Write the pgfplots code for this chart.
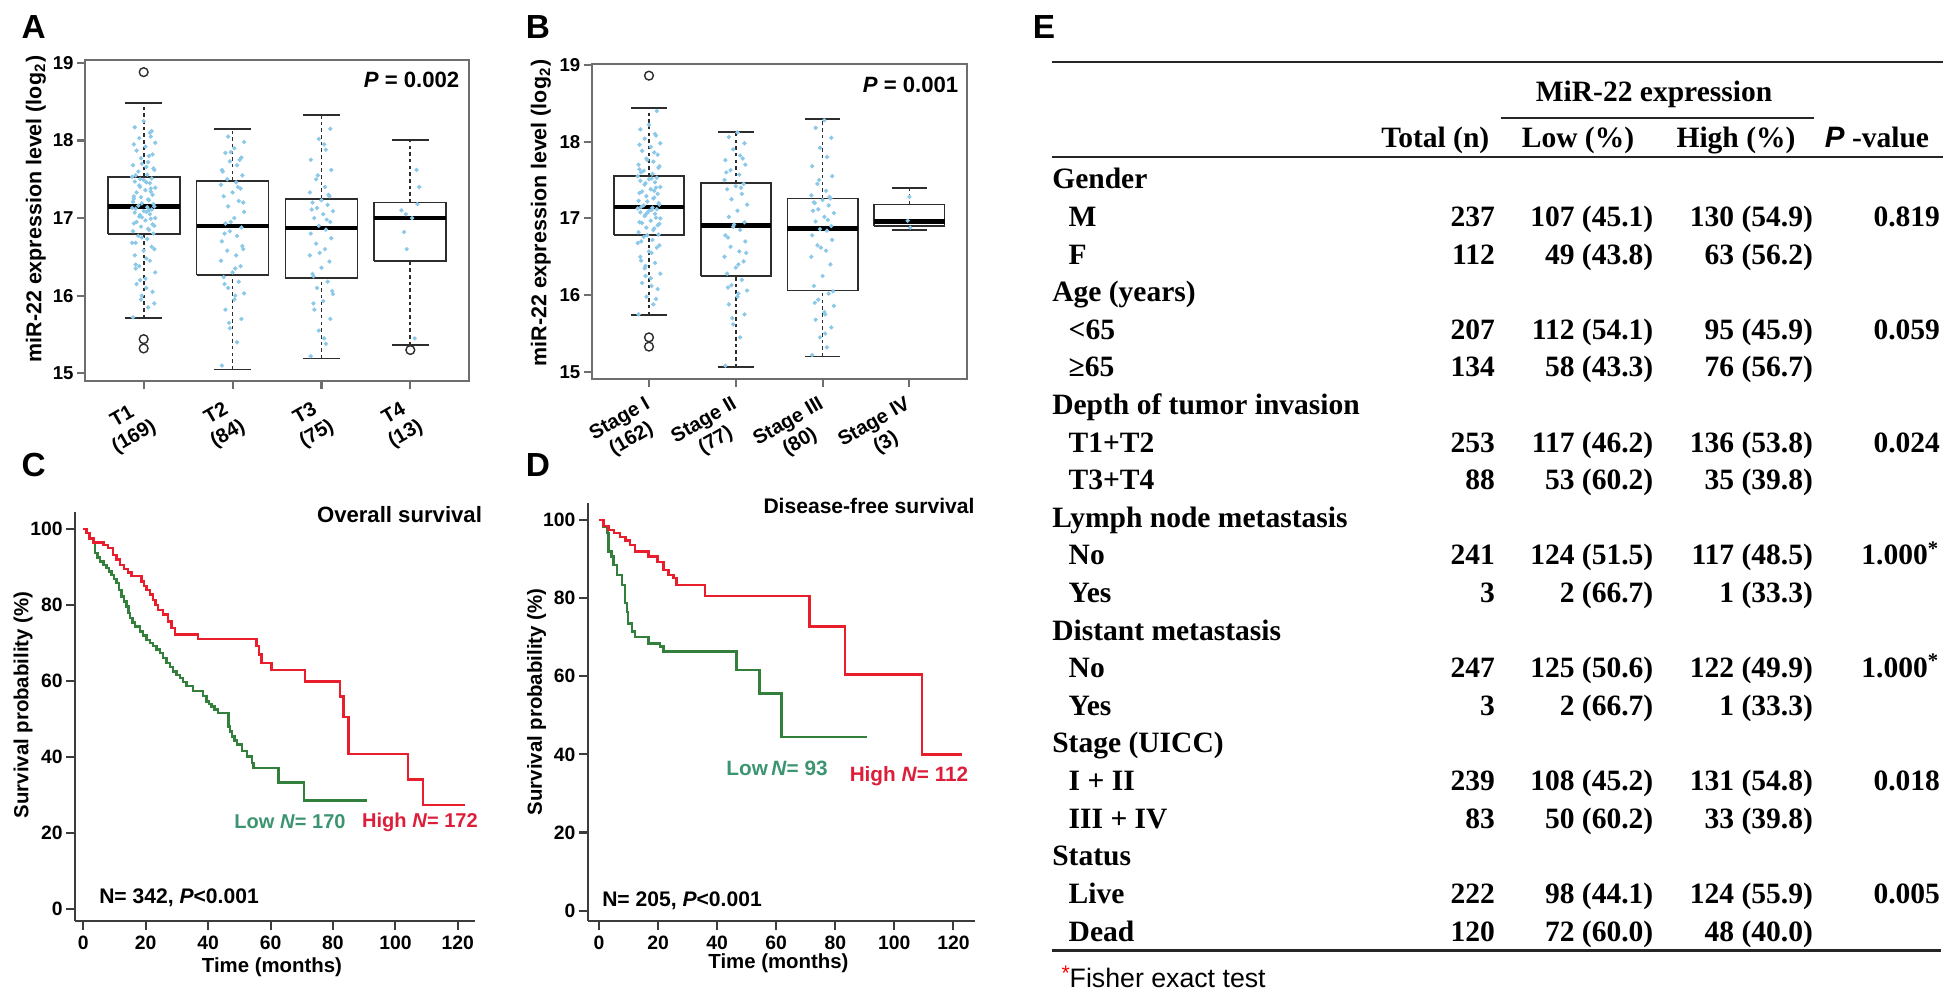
\documentclass[border=0pt]{standalone}
\usepackage{fontspec}
\setmainfont{Liberation Sans}
\newfontfamily\serifb{Liberation Serif}
\usepackage{pgfplots}
\pgfplotsset{compat=1.18}
\definecolor{jblue}{RGB}{140,200,232}
\definecolor{framegray}{RGB}{110,110,110}
\definecolor{boxdark}{RGB}{45,45,45}
\definecolor{kmred}{RGB}{232,30,45}
\definecolor{kmgreen}{RGB}{50,128,60}
\definecolor{lowgreen}{RGB}{60,148,112}
\definecolor{highred}{RGB}{220,30,58}
\definecolor{axgray}{RGB}{60,60,60}
\pgfplotsset{
  boxax/.style={
    scale only axis, anchor=south west,
    xmin=0.34, xmax=4.66, xtick={1,2,3,4}, ytick={15,16,17,18,19},
    tick pos=left, tick align=outside, major tick length=0.08cm,
    axis line style={draw=framegray, line width=0.6pt},
    tick style={draw=framegray, line width=0.6pt},
    yticklabel style={font=\fontsize{5.3}{6}\selectfont\bfseries},
    yticklabel shift=-0.09cm,
    xticklabel style={font=\fontsize{5.7}{6.6}\selectfont\bfseries, align=center, xshift=0.16cm, yshift=-0.2cm, rotate=30, anchor=east},
    /pgf/number format/assume math mode=true,
    clip=false,
  },
  boxl/.style={draw=boxdark, line width=0.5pt, solid, line join=miter},
  medl/.style={draw=black, line width=1.3pt},
  wk/.style={draw=boxdark, line width=0.5pt, dash pattern=on 1pt off 0.9pt},
  capl/.style={draw=boxdark, line width=0.5pt, solid},
  jit/.style={only marks, mark=*, mark size=0.38pt, color=jblue},
  outl/.style={only marks, mark=o, mark size=1.25pt, color=boxdark, mark options={line width=0.4pt}},
  kmax/.style={
    scale only axis, anchor=south west,
    axis lines*=left, axis line style={draw=axgray, line width=0.6pt},
    tick align=outside, major tick length=0.09cm,
    tick style={draw=axgray, line width=0.6pt},
    xtick={0,20,...,120}, ytick={0,20,...,100},
    tick label style={font=\fontsize{5.5}{6}\selectfont\bfseries},
    xticklabel shift=-0.06cm, yticklabel shift=-0.09cm,
    /pgf/number format/assume math mode=true,
  },
}
\tikzset{
  tabtext/.style={font=\serifb\bfseries\fontsize{8.4}{10}\selectfont, inner sep=0pt, text=black},
  lab/.style={font=\bfseries\fontsize{9.5}{10}\selectfont, inner sep=0pt},
}
\newcommand\trow[6]{%
  \node[tabtext, anchor=base west] at (10.68, {8.07-0.376*#1}) {#2};
  \node[tabtext, anchor=base east] at (14.956, {8.07-0.376*#1}) {#3};
  \node[tabtext, anchor=base east] at (16.54, {8.07-0.376*#1}) {#4};
  \node[tabtext, anchor=base east] at (18.136, {8.07-0.376*#1}) {#5};
  \node[tabtext, anchor=base east] at (19.407, {8.07-0.376*#1}) {#6};
}
\newcommand\tcat[2]{\node[tabtext, anchor=base west] at (10.516, {8.07-0.376*#1}) {#2};}
\begin{document}
\begin{tikzpicture}
\useasboundingbox (0,0) rectangle (19.5,9.96);

% ---------------- Panel A ----------------
\begin{axis}[boxax, at={(0.85cm,6.147cm)}, width=3.84cm, height=3.21cm,
  ymin=14.897, ymax=19.033,
  xticklabels={{T1\\(169)},{T2\\(84)},{T3\\(75)},{T4\\(13)}}]
% T1: whiskers 15.71 / 18.48, box 16.79-17.53, median 17.15
\addplot[wk] coordinates {(1,15.71) (1,16.79)};
\addplot[wk] coordinates {(1,17.53) (1,18.48)};
\addplot[capl] coordinates {(0.795,15.71) (1.205,15.71)};
\addplot[capl] coordinates {(0.795,18.48) (1.205,18.48)};
\addplot[boxl] coordinates {(0.595,16.79) (1.405,16.79) (1.405,17.53) (0.595,17.53) (0.595,16.79)};
\addplot[medl] coordinates {(0.595,17.15) (1.405,17.15)};
% T2
\addplot[wk] coordinates {(2,15.05) (2,16.27)};
\addplot[wk] coordinates {(2,17.48) (2,18.15)};
\addplot[capl] coordinates {(1.795,15.05) (2.205,15.05)};
\addplot[capl] coordinates {(1.795,18.15) (2.205,18.15)};
\addplot[boxl] coordinates {(1.595,16.27) (2.405,16.27) (2.405,17.48) (1.595,17.48) (1.595,16.27)};
\addplot[medl] coordinates {(1.595,16.90) (2.405,16.90)};
% T3
\addplot[wk] coordinates {(3,15.19) (3,16.23)};
\addplot[wk] coordinates {(3,17.25) (3,18.33)};
\addplot[capl] coordinates {(2.795,15.19) (3.205,15.19)};
\addplot[capl] coordinates {(2.795,18.33) (3.205,18.33)};
\addplot[boxl] coordinates {(2.595,16.23) (3.405,16.23) (3.405,17.25) (2.595,17.25) (2.595,16.23)};
\addplot[medl] coordinates {(2.595,16.87) (3.405,16.87)};
% T4
\addplot[wk] coordinates {(4,15.36) (4,16.45)};
\addplot[wk] coordinates {(4,17.20) (4,18.01)};
\addplot[capl] coordinates {(3.795,15.36) (4.205,15.36)};
\addplot[capl] coordinates {(3.795,18.01) (4.205,18.01)};
\addplot[boxl] coordinates {(3.595,16.45) (4.405,16.45) (4.405,17.20) (3.595,17.20) (3.595,16.45)};
\addplot[medl] coordinates {(3.595,17.00) (4.405,17.00)};
\addplot[outl] coordinates {(1,18.88) (1,15.44) (1,15.32) (4,15.30)};
% T1 jitter
\addplot[jit] coordinates {
(0.88,15.72) (1.05,15.85) (0.97,15.95) (1.10,16.05) (0.92,16.15) (1.02,16.22) (1.13,16.30) (0.95,16.38)
(1.07,16.45) (0.90,16.52) (1.00,16.58) (1.09,16.63) (0.87,16.68) (1.04,16.73) (0.94,16.77) (1.11,16.80)
(0.88,16.83) (1.05,16.86) (0.97,16.89) (1.10,16.92) (0.92,16.95) (1.02,16.97) (1.13,17.00) (0.95,17.02)
(1.07,17.05) (0.90,17.07) (1.00,17.09) (1.09,17.11) (0.87,17.13) (1.04,17.14) (0.94,17.16) (1.11,17.18)
(0.88,17.21) (1.05,17.24) (0.97,17.27) (1.10,17.30) (0.92,17.33) (1.02,17.36) (1.13,17.39) (0.95,17.42)
(1.07,17.45) (0.90,17.47) (1.00,17.49) (1.09,17.51) (0.87,17.53) (1.04,17.56) (0.94,17.60) (1.11,17.64)
(0.88,17.68) (1.05,17.72) (0.97,17.77) (1.10,17.82) (0.92,17.87) (1.02,17.92) (1.13,17.97) (0.95,18.03)
(1.07,18.10) (0.90,18.17) (1.00,18.25) (1.09,18.12)
(1.03,16.10) (0.91,16.40) (1.12,16.60) (0.98,16.75) (1.06,16.85) (0.89,16.93) (1.08,16.99) (0.96,17.04)
(1.03,17.08) (0.91,17.12) (1.12,17.15) (0.98,17.19) (1.06,17.23) (0.89,17.28) (1.08,17.34) (0.96,17.40)
(1.03,17.46) (0.91,17.55) (1.12,17.62) (0.98,17.70) (1.06,17.80) (0.89,17.95) (1.08,18.05) (0.96,16.20)
(1.03,16.48) (0.91,16.68) (1.12,16.90) (0.98,17.01) (1.06,17.10) (0.89,17.25) (1.08,17.38) (0.96,17.50)
(1.03,17.66) (0.91,16.35) (1.12,15.90) (0.98,16.00)};
% T2 jitter
\addplot[jit] coordinates {
(1.88,15.10) (2.05,15.40) (1.97,15.58) (2.10,15.70) (1.92,15.82) (2.02,15.95) (2.13,16.03) (1.95,16.10)
(2.07,16.18) (1.90,16.24) (2.00,16.30) (2.09,16.38) (1.87,16.45) (2.04,16.52) (1.94,16.58) (2.11,16.64)
(1.88,16.70) (2.05,16.77) (1.97,16.83) (2.10,16.88) (1.92,16.93) (2.02,17.00) (2.13,17.08) (1.95,17.15)
(2.07,17.22) (1.90,17.28) (2.00,17.33) (2.09,17.38) (1.87,17.43) (2.04,17.46) (1.94,17.50) (2.11,17.55)
(1.88,17.62) (2.05,17.68) (1.97,17.73) (2.10,17.78) (1.92,17.84) (2.02,17.90) (2.13,17.98) (1.95,18.05)
(2.03,16.00) (1.91,16.15) (2.12,16.60) (1.98,16.95) (2.06,17.40) (1.89,17.60) (2.08,17.75) (1.96,15.65)
(2.03,16.35) (1.91,16.80) (2.12,17.20) (1.98,17.85)};
% T3 jitter
\addplot[jit] coordinates {
(2.88,15.22) (3.05,15.38) (2.97,15.55) (3.10,15.70) (2.92,15.82) (3.02,15.93) (3.13,16.02) (2.95,16.10)
(3.07,16.18) (2.90,16.28) (3.00,16.36) (3.09,16.44) (2.87,16.52) (3.04,16.60) (2.94,16.67) (3.11,16.74)
(2.88,16.80) (3.05,16.85) (2.97,16.90) (3.10,16.95) (2.92,17.00) (3.02,17.05) (3.13,17.09) (2.95,17.13)
(3.07,17.17) (2.90,17.20) (3.00,17.23) (3.09,17.28) (2.87,17.33) (3.04,17.40) (2.94,17.50) (3.11,17.62)
(2.88,17.75) (3.05,17.88) (2.97,18.02) (3.10,18.15)
(3.03,15.45) (2.91,15.90) (3.12,16.06) (2.98,16.55) (3.06,16.98) (2.89,17.11) (3.08,17.30) (2.96,17.55)
(3.03,17.95) (2.91,16.25)};
% T4 jitter
\addplot[jit] coordinates {(4.05,15.45) (3.93,16.82) (4.02,17.00) (3.95,17.05) (4.08,17.18) (4.10,17.40) (4.07,17.62) (3.96,16.60) (3.90,17.10)};
\end{axis}

% ---------------- Panel B ----------------
\begin{axis}[boxax, at={(5.917cm,6.17cm)}, width=3.75cm, height=3.15cm,
  ymin=14.908, ymax=19.012,
  xticklabels={{Stage I\\(162)},{Stage II\\(77)},{Stage III\\(80)},{Stage IV\\(3)}}]
% Stage I
\addplot[wk] coordinates {(1,15.74) (1,16.78)};
\addplot[wk] coordinates {(1,17.55) (1,18.44)};
\addplot[capl] coordinates {(0.795,15.74) (1.205,15.74)};
\addplot[capl] coordinates {(0.795,18.44) (1.205,18.44)};
\addplot[boxl] coordinates {(0.595,16.78) (1.405,16.78) (1.405,17.55) (0.595,17.55) (0.595,16.78)};
\addplot[medl] coordinates {(0.595,17.15) (1.405,17.15)};
% Stage II
\addplot[wk] coordinates {(2,15.06) (2,16.25)};
\addplot[wk] coordinates {(2,17.46) (2,18.13)};
\addplot[capl] coordinates {(1.795,15.06) (2.205,15.06)};
\addplot[capl] coordinates {(1.795,18.13) (2.205,18.13)};
\addplot[boxl] coordinates {(1.595,16.25) (2.405,16.25) (2.405,17.46) (1.595,17.46) (1.595,16.25)};
\addplot[medl] coordinates {(1.595,16.91) (2.405,16.91)};
% Stage III
\addplot[wk] coordinates {(3,15.20) (3,16.06)};
\addplot[wk] coordinates {(3,17.26) (3,18.30)};
\addplot[capl] coordinates {(2.795,15.20) (3.205,15.20)};
\addplot[capl] coordinates {(2.795,18.30) (3.205,18.30)};
\addplot[boxl] coordinates {(2.595,16.06) (3.405,16.06) (3.405,17.26) (2.595,17.26) (2.595,16.06)};
\addplot[medl] coordinates {(2.595,16.87) (3.405,16.87)};
% Stage IV
\addplot[wk] coordinates {(4,16.85) (4,16.90)};
\addplot[wk] coordinates {(4,17.18) (4,17.40)};
\addplot[capl] coordinates {(3.795,16.85) (4.205,16.85)};
\addplot[capl] coordinates {(3.795,17.40) (4.205,17.40)};
\addplot[boxl] coordinates {(3.595,16.90) (4.405,16.90) (4.405,17.18) (3.595,17.18) (3.595,16.90)};
\addplot[medl] coordinates {(3.595,16.96) (4.405,16.96)};
\addplot[outl] coordinates {(1,18.86) (1,15.45) (1,15.33)};
\addplot[jit] coordinates {
(0.88,15.75) (1.05,15.88) (0.97,15.98) (1.10,16.08) (0.92,16.16) (1.02,16.22) (1.13,16.28) (0.95,16.35)
(1.07,16.42) (0.90,16.50) (1.00,16.57) (1.09,16.62) (0.87,16.68) (1.04,16.72) (0.94,16.76)
(1.11,16.79) (0.88,16.82) (1.05,16.85) (0.97,16.88) (1.10,16.91) (0.92,16.94) (1.02,16.97) (1.13,17.00)
(0.95,17.03) (1.07,17.06) (0.90,17.08) (1.00,17.10) (1.09,17.12) (0.87,17.13) (1.04,17.14)
(0.94,17.17) (1.11,17.20) (0.88,17.23) (1.05,17.26) (0.97,17.29) (1.10,17.32) (0.92,17.35) (1.02,17.38)
(1.13,17.41) (0.95,17.44) (1.07,17.47) (0.90,17.49) (1.00,17.51) (1.09,17.53) (0.87,17.55)
(1.04,17.58) (0.94,17.62) (1.11,17.66) (0.88,17.70) (1.05,17.74) (0.97,17.78) (1.10,17.83) (0.92,17.88)
(1.02,17.93) (1.13,17.98) (0.95,18.04) (1.07,18.10) (0.90,18.16) (1.00,18.22) (1.09,18.40)
(1.03,16.12) (0.91,16.45) (1.12,16.65) (0.98,16.78) (1.06,16.87) (0.89,16.95) (1.08,17.01) (0.96,17.05)
(1.03,17.11) (0.91,17.15) (1.12,17.18) (0.98,17.22) (1.06,17.27) (0.89,17.33) (1.08,17.40) (0.96,17.46)
(1.03,17.52) (0.91,17.60) (1.12,17.68) (0.98,17.76) (1.06,17.86) (0.89,17.96) (1.08,18.08) (0.96,16.25)
(1.03,16.55) (0.91,16.70) (1.12,16.93) (0.98,17.07) (1.06,17.36) (0.89,17.64) (1.08,15.95) (0.96,16.38)};
\addplot[jit] coordinates {
(1.88,15.08) (2.05,15.45) (1.97,15.62) (2.10,15.75) (1.92,15.88) (2.02,15.98) (2.13,16.06) (1.95,16.13) (2.07,16.20)
(1.90,16.28) (2.00,16.36) (2.09,16.44) (1.87,16.50) (2.04,16.57) (1.94,16.63) (2.11,16.70) (1.88,16.78) (2.05,16.85) (1.97,16.89)
(2.10,16.95) (1.92,17.02) (2.02,17.10) (2.13,17.18) (1.95,17.25) (2.07,17.32) (1.90,17.38) (2.00,17.42) (2.09,17.45)
(1.87,17.50) (2.04,17.57) (1.94,17.63) (2.11,17.70) (1.88,17.76) (2.05,17.82) (1.97,17.90) (2.10,17.98) (1.92,18.06) (2.02,18.12)
(2.03,16.02) (1.91,16.10) (2.12,16.55) (1.98,16.92) (2.06,17.40) (1.89,17.60) (2.08,17.78) (1.96,15.70) (2.03,16.40) (1.91,16.75)};
\addplot[jit] coordinates {
(2.88,15.22) (3.05,15.32) (2.97,15.45) (3.10,15.58) (2.92,15.68) (3.02,15.78) (3.13,15.86) (2.95,15.94) (3.07,16.02)
(2.90,16.12) (3.00,16.25) (3.09,16.40) (2.87,16.50) (3.04,16.58) (2.94,16.65) (3.11,16.72) (2.88,16.78) (3.05,16.84) (2.97,16.86)
(3.10,16.90) (2.92,16.96) (3.02,17.02) (3.13,17.07) (2.95,17.12) (3.07,17.17) (2.90,17.21) (3.00,17.24) (3.09,17.26)
(2.87,17.30) (3.04,17.36) (2.94,17.45) (3.11,17.55) (2.88,17.68) (3.05,17.80) (2.97,17.92) (3.10,18.05) (2.92,18.18) (3.02,18.28)
(3.03,15.50) (2.91,15.90) (3.12,16.05) (2.98,16.62) (3.06,16.98) (2.89,17.10) (3.08,17.28) (2.96,17.50) (3.03,15.75) (2.91,17.20)};
\addplot[jit] coordinates {(4.01,16.88) (3.98,16.97) (4.00,17.28)};
\end{axis}

% ---------------- Panel C ----------------
\begin{axis}[kmax, at={(0.75cm,0.753cm)}, width=4.0cm, height=4.09cm,
  xmin=-2.66, xmax=125.5, ymin=-3.0, ymax=104.6]
\addplot[kmgreen, line width=0.7pt, const plot] coordinates {
(0,100) (1,99) (2,97.5) (3.2,96.3) (3.7,93.7) (4.5,92.5) (5.3,91.5) (6.4,90.6) (7.5,89.8) (8.3,88.9)
(9.1,88) (9.9,86.9) (10.7,85.8) (11.5,84) (12.3,82.3) (13.1,81) (13.9,79.7) (14.5,78) (15,76.6)
(15.8,75.5) (16.6,74.4) (18.2,73.1) (19.2,72) (20.3,70.9) (21.3,70) (22.4,69.2) (23.5,68.3) (24.6,67.4)
(25.6,66.1) (26.7,64.8) (27.7,63.7) (28.8,62.6) (29.8,61.7) (30.9,60.9) (32,59.8) (33.1,58.7) (35.2,57.4)
(38.4,56.1) (39.5,54.7) (40.3,54) (41.1,53.4) (42.1,52.5) (43.2,51.7) (46.5,48.1) (47,46.8) (47.6,45.5)
(48.4,44.4) (49.2,43.3) (50.8,41.6) (52.4,40.2) (54,38.5) (54.5,37.2) (62.5,33.4) (70.7,28.6) (90.8,28.6)};
\addplot[kmred, line width=0.7pt, const plot] coordinates {
(0,100) (1,99) (2,97.5) (3.2,96.5) (6.4,95.9) (8,95) (9.6,93.2) (10.7,92) (11.8,90.6) (13,89.5)
(14.4,88.6) (15.5,87.7) (18.7,86.2) (19.5,85) (20.3,84) (21.3,82.8) (22.4,81.4) (23.2,80) (24,78.8)
(25.6,77.5) (27.2,75.7) (28.3,74) (29.4,72.3) (36.8,71.1) (55.5,69.2) (56.3,67) (57.1,64.8) (60.3,63.0)
(71,59.9) (82.2,56.0) (83.3,50.6) (84.9,40.9) (104.1,34.2) (108.9,27.5) (122.3,27.5)};
\end{axis}

% ---------------- Panel D ----------------
\begin{axis}[kmax, at={(5.877cm,0.75cm)}, width=3.873cm, height=4.18cm,
  xmin=-3.83, xmax=127.3, ymin=-2.64, ymax=104.35]
\addplot[kmgreen, line width=0.7pt, const plot] coordinates {
(0,100) (1.5,98.3) (2.8,96.6) (3.2,91.9) (4.3,90.6) (4.9,88.5) (6,85.9) (7.7,83.4) (8.8,78.7) (9.4,76.5)
(9.9,73.5) (11.1,71.4) (12.2,70.1) (16.7,68.4) (20.7,67.6) (21.8,66.3) (46.6,61.6) (54.3,55.6) (61.8,44.4) (90.6,44.4)};
\addplot[kmred, line width=0.7pt, const plot] coordinates {
(0,100) (1.5,98.5) (3.2,97.4) (5,96.6) (7.1,95.7) (9,94.7) (10.5,93.6) (12.2,91.9) (16.7,90.6) (19.8,89.3)
(21.8,87.2) (23.5,85.9) (25.2,85.1) (26.3,83.4) (35.9,80.5) (71.2,72.7) (83.3,60.5) (109.3,40) (122.8,40)};
\end{axis}

% ---------------- Labels A-D ----------------
\node[lab] at (0.336,9.685) {A};
\node[lab] at (5.38,9.685) {B};
\node[lab] at (0.336,5.31) {C};
\node[lab] at (5.38,5.31) {D};
\node[lab] at (10.44,9.685) {E};
\node[rotate=90, font=\bfseries\fontsize{6.1}{7}\selectfont] at (0.36,7.87) {miR-22 expression level (log\textsubscript{2})};
\node[rotate=90, font=\bfseries\fontsize{6.1}{7}\selectfont] at (5.41,7.83) {miR-22 expression level (log\textsubscript{2})};
\node[anchor=east, inner sep=0pt, font=\bfseries\fontsize{6.3}{7}\selectfont] at (4.60,9.16) {\textit{P} = 0.002};
\node[anchor=east, inner sep=0pt, font=\bfseries\fontsize{6.3}{7}\selectfont] at (9.59,9.11) {\textit{P} = 0.001};

\node[rotate=90, font=\bfseries\fontsize{5.8}{7}\selectfont] at (0.23,2.91) {Survival probability (\%)};
\node[font=\bfseries\fontsize{5.8}{7}\selectfont] at (2.72,0.285) {Time (months)};
\node[font=\bfseries\fontsize{6.3}{7}\selectfont] at (3.995,4.81) {Overall survival};
\node[font=\bfseries\fontsize{5.7}{7}\selectfont, text=lowgreen] at (2.90,1.74) {Low \textit{N}= 170};
\node[font=\bfseries\fontsize{5.7}{7}\selectfont, text=highred] at (4.20,1.74) {High \textit{N}= 172};
\node[font=\bfseries\fontsize{6}{7}\selectfont] at (1.79,0.985) {N= 342, \textit{P}<0.001};

\node[rotate=90, font=\bfseries\fontsize{5.8}{7}\selectfont] at (5.365,2.94) {Survival probability (\%)};
\node[font=\bfseries\fontsize{5.8}{7}\selectfont] at (7.785,0.33) {Time (months)};
\node[font=\bfseries\fontsize{6}{7}\selectfont] at (8.69,4.90) {Disease-free survival};
\node[font=\bfseries\fontsize{5.9}{7}\selectfont, text=lowgreen] at (7.77,2.28) {Low\,\textit{N}= 93};
\node[font=\bfseries\fontsize{5.9}{7}\selectfont, text=highred] at (9.09,2.195) {High \textit{N}= 112};
\node[font=\bfseries\fontsize{6}{7}\selectfont] at (6.82,0.95) {N= 205, \textit{P}<0.001};

% ---------------- Panel E: table ----------------
\draw[line width=0.6pt, black!85] (10.516,9.34) -- (19.425,9.34);
\draw[line width=0.45pt, black!85] (15.01,8.78) -- (18.14,8.78);
\draw[line width=0.6pt, black!85] (10.516,8.39) -- (19.425,8.39);
\draw[line width=0.85pt, black!85] (10.516,0.45) -- (19.407,0.45);
\node[tabtext, anchor=base] at (16.54,8.94) {MiR-22 expression};
\node[tabtext, anchor=base east] at (14.90,8.48) {Total (n)};
\node[tabtext, anchor=base] at (15.78,8.48) {Low (\%)};
\node[tabtext, anchor=base] at (17.36,8.48) {High (\%)};
\node[tabtext, anchor=base] at (18.77,8.48) {{\rmfamily\itshape P} -value};
\tcat{0}{Gender}
\trow{1}{M}{237}{107 (45.1)}{130 (54.9)}{0.819}
\trow{2}{F}{112}{49 (43.8)}{63 (56.2)}{}
\tcat{3}{Age (years)}
\trow{4}{<65}{207}{112 (54.1)}{95 (45.9)}{0.059}
\trow{5}{≥65}{134}{58 (43.3)}{76 (56.7)}{}
\tcat{6}{Depth of tumor invasion}
\trow{7}{T1+T2}{253}{117 (46.2)}{136 (53.8)}{0.024}
\trow{8}{T3+T4}{88}{53 (60.2)}{35 (39.8)}{}
\tcat{9}{Lymph node metastasis}
\trow{10}{No}{241}{124 (51.5)}{117 (48.5)}{1.000\textsuperscript{*}}
\trow{11}{Yes}{3}{2 (66.7)}{1 (33.3)}{}
\tcat{12}{Distant metastasis}
\trow{13}{No}{247}{125 (50.6)}{122 (49.9)}{1.000\textsuperscript{*}}
\trow{14}{Yes}{3}{2 (66.7)}{1 (33.3)}{}
\tcat{15}{Stage (UICC)}
\trow{16}{I + II}{239}{108 (45.2)}{131 (54.8)}{0.018}
\trow{17}{III + IV}{83}{50 (60.2)}{33 (39.8)}{}
\tcat{18}{Status}
\trow{19}{Live}{222}{98 (44.1)}{124 (55.9)}{0.005}
\trow{20}{Dead}{120}{72 (60.0)}{48 (40.0)}{}
\node[anchor=base west, inner sep=0pt, text=red, font=\fontsize{6}{7}\selectfont] at (10.61,0.15) {*};
\node[anchor=base west, inner sep=0pt, font=\fontsize{7.6}{9}\selectfont] at (10.69,0.08) {Fisher exact test};
\end{tikzpicture}
\end{document}
